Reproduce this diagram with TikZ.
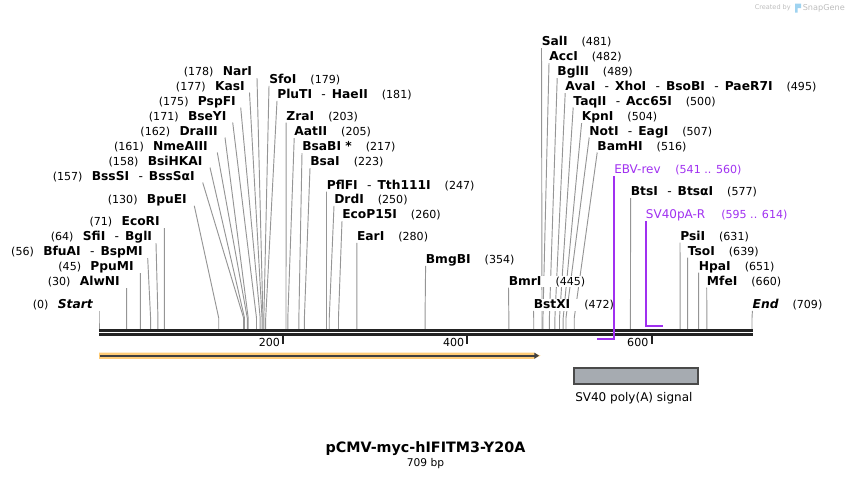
\documentclass[tikz,border=0pt]{standalone}
\usepackage{fontspec}
\setmainfont{DejaVu Sans}
\usepackage{tikz}
\usetikzlibrary{arrows.meta,positioning}
\definecolor{cutGray}{HTML}{959595}
\definecolor{barBlack}{HTML}{232323}
\definecolor{primerPurple}{HTML}{A030F0}
\definecolor{featOrange}{HTML}{FFCC77}
\definecolor{featLine}{HTML}{404040}
\definecolor{polyGray}{HTML}{A6ABB1}
\definecolor{polyEdge}{HTML}{4A4A4A}
\definecolor{markGray}{HTML}{BDBDBD}
\definecolor{markBlue}{HTML}{9FD3F0}
\newcommand{\numfont}{\fontsize{8.3}{10}\selectfont\mdseries\upshape}
\newcommand{\ensep}{\hspace{7pt}{\mdseries-}\hspace{4.5pt}}
\tikzset{
  enzlabel/.style={font=\fontsize{9.2}{11}\selectfont, inner sep=0pt,
    text height=6.8pt, text depth=1.5pt, fill=white},
  cutline/.style={cutGray, line width=0.7pt},
  primername/.style={font=\fontsize{9}{11}\selectfont, primerPurple,
    inner sep=0pt, text height=6.8pt, text depth=1.5pt},
  primerline/.style={primerPurple, line width=1.5pt},
  seqline/.style={barBlack, line width=2pt},
}

\begin{document}
\begin{tikzpicture}[x=0.75pt, y=-0.75pt]
\useasboundingbox (0,0) rectangle (852,479);
% sites left of their labels
\foreach \id/\num/\txt/\nx/\ny/\dx in {
  NarI/178/NarI/252.3/72.3/4.7,
  KasI/177/KasI/245/86.7/4.5,
  PspFI/175/PspFI/236/101.7/4.7,
  BseYI/171/BseYI/226.7/116.7/6,
  DraIII/162/DraIII/218/131.7/7,
  NmeAIII/161/NmeAIII/208/146.7/9.3,
  BsiHKAI/158/BsiHKAI/202.7/161.7/7.3,
  BssSI/157/{BssSI\ensep BssSαI}/195/176.7/7.7,
  BpuEI/130/BpuEI/187/200/7.3,
  EcoRI/71/EcoRI/160/222.3/4.4,
  SfiI/64/{SfiI\ensep BglI}/152.3/237.3/3.7,
  BfuAI/56/{BfuAI\ensep BspMI}/143/252.3/4.7,
  PpuMI/45/PpuMI/134/267.3/6.4,
  AlwNI/30/AlwNI/120/282.3/6.6,
  Start/0/{\itshape Start}/93/305/6}{
  \node[enzlabel, anchor=east] (n\id) at (\nx,\ny) {{\numfont(\num)}\hspace{7pt}{\bfseries\txt}};
  \pgfmathsetmacro{\sx}{99+\num*0.92102}
  \draw[cutline] (n\id.south east) ++(\dx,0) -- (\sx,318) -- (\sx,329);
}
% sites right of their labels
\foreach \id/\num/\txt/\nx/\ny in {
  SfoI/179/SfoI/269/80,
  PluTI/181/{PluTI\ensep HaeII}/277/95,
  ZraI/203/ZraI/286.2/116.7,
  AatII/205/AatII/294.2/132.3,
  BsaBI/217/{BsaBI *}/302/147.3,
  BsaI/223/BsaI/310/162.3,
  PflFI/247/{PflFI\ensep Tth111I}/326.5/185.7,
  DrdI/250/DrdI/334/200,
  EcoP15I/260/EcoP15I/342/215.3,
  EarI/280/EarI/356.8/237,
  BmgBI/354/BmgBI/425.6/260,
  SalI/481/SalI/541.5/42.3,
  AccI/482/AccI/549/57.3,
  BglII/489/BglII/557.2/72.3,
  AvaI/495/{AvaI\ensep XhoI\ensep BsoBI\ensep PaeR7I}/565.2/87.3,
  TaqII/500/{TaqII\ensep Acc65I}/573.2/101.7,
  KpnI/504/KpnI/581.6/117.3,
  NotI/507/{NotI\ensep EagI}/589.2/131.7,
  BamHI/516/BamHI/597.2/146.7,
  BtsI/577/{BtsI\ensep BtsαI}/630.6/192.3,
  PsiI/631/PsiI/680/236.7,
  TsoI/639/TsoI/687.6/251.7,
  HpaI/651/HpaI/698.6/266.7,
  MfeI/660/MfeI/706.7/281.7,
  End/709/{\itshape End}/752.4/305,
  BmrI/445/BmrI/508.5/281.7,
  BstXI/472/BstXI/533.5/305}{
  \node[enzlabel, anchor=west] (n\id) at (\nx,\ny) {{\bfseries\txt}\hspace{10.5pt}{\numfont(\num)}};
  \pgfmathsetmacro{\sx}{99+\num*0.92102}
  \draw[cutline] (n\id.south west) -- (\sx,318) -- (\sx,329);
}
% sequence
\draw[seqline] (99,330.3) -- (752.6,330.3);
\draw[seqline] (99,334.5) -- (752.6,334.5);
\foreach \t in {200,400,600}{
  \pgfmathsetmacro{\tx}{99+\t*0.92102}
  \draw[barBlack, line width=1.4pt] (\tx,336) -- (\tx,344);
  \node[anchor=east, inner sep=0pt, font=\numfont] (tick\t) at (\tx-3,342) {\t};
}
% primers
\node[primername, anchor=west] (pEBV) at (614,170) {EBV-rev\hspace{11pt}{\numfont(541 .. 560)}};
\coordinate (eEBV) at (614,338.6);
\coordinate (bEBV) at (597,338.6);
\draw[primerline] (pEBV.south west) -- (eEBV) -- (bEBV);
\node[primername, anchor=west] (pSVR) at (645.7,215) {SV40pA-R\hspace{12pt}{\numfont(595 .. 614)}};
\coordinate (eSVR) at (645.7,325.5);
\coordinate (bSVR) at (663,325.5);
\draw[primerline] (pSVR.south west) -- (eSVR) -- (bSVR);
% features
\fill[featOrange] (99,352.6) -- (533.5,352.6) -- (540.5,355.7) -- (533.5,358.8) -- (99,358.8) -- cycle;
\draw[featLine, line width=1.5pt, -{Triangle[length=3.5pt,width=4.5pt]}] (99.5,355.7) -- (539,355.7);
\draw[polyEdge, fill=polyGray, line width=0.8pt] (574,368) rectangle (698,384);
\node[anchor=west, inner sep=0pt, font=\fontsize{9}{11}\selectfont] (polyA) at (575,398) {SV40 poly(A) signal};
% title
\node[font=\fontsize{10.75}{12}\selectfont\bfseries, inner sep=0pt] (title) at (425.5,449) {pCMV-myc-hIFITM3-Y20A};
\node[font=\fontsize{8}{10}\selectfont, inner sep=0pt] (size) at (425.5,463.5) {709 bp};
% watermark
\node[anchor=east, inner sep=0pt, markGray, font=\fontsize{6.1}{7}\selectfont] (snap) at (845,8) {SnapGene};
\fill[markBlue] (795,3.5) -- (801,3.5) -- (801,8) -- (797.5,8) -- (797.5,12.5) -- (795,12.5) -- cycle;
\node[anchor=east, inner sep=0pt, markGray, font=\fontsize{4.9}{6}\selectfont] (made) at (791,8) {Created by};
\end{tikzpicture}
\end{document}
